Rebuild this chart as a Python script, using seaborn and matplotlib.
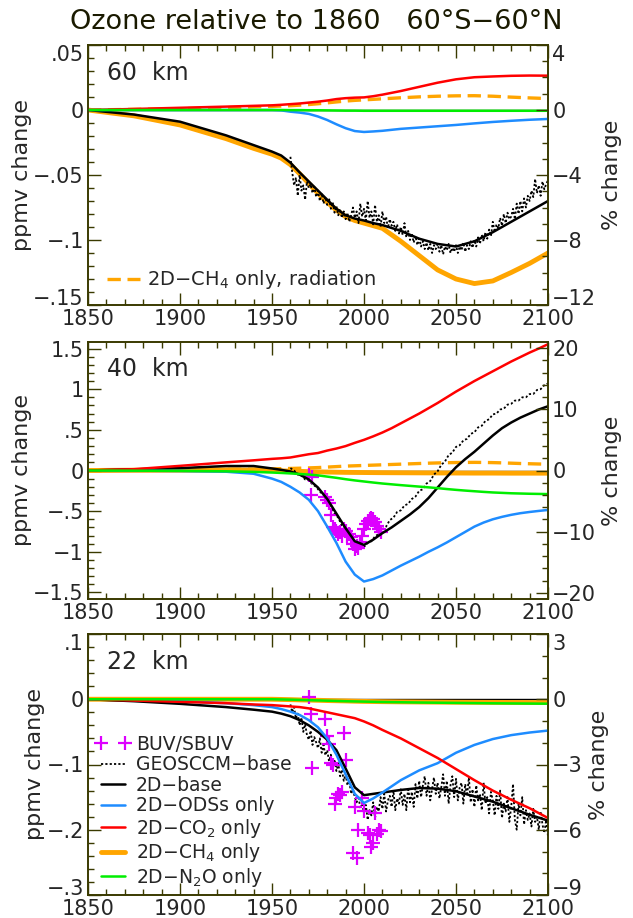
import numpy as np
import pandas as pd
import matplotlib
matplotlib.use("Agg")
import matplotlib.pyplot as plt
import seaborn as sns
from matplotlib.ticker import FixedLocator, MultipleLocator
from matplotlib.lines import Line2D

sns.set_style("ticks")
plt.rcParams["font.family"] = ["DejaVu Sans"]
plt.rcParams["mathtext.fontset"] = "dejavusans"

# ---------------- data ----------------
YR = [1850, 1875, 1900, 1925, 1940, 1950, 1955, 1960, 1965, 1970, 1975, 1980, 1985,
      1990, 1995, 2000, 2005, 2010, 2020, 2030, 2040, 2050, 2060, 2070, 2080, 2090, 2100]
YR40 = [1850, 1875, 1900, 1925, 1940, 1950, 1955, 1960, 1965, 1970, 1975, 1980, 1985,
        1990, 1995, 2000, 2005, 2010, 2015, 2020, 2025, 2030, 2035, 2040, 2045, 2050,
        2055, 2060, 2065, 2070, 2075, 2080, 2085, 2090, 2095, 2100]

# 60 km
base60 = [0, -0.0035, -0.009, -0.0195, -0.027, -0.032, -0.035, -0.0405, -0.048, -0.055, -0.062, -0.069, -0.076,
          -0.081, -0.0835, -0.085, -0.087, -0.0885, -0.093, -0.099, -0.103, -0.105, -0.101, -0.094, -0.086, -0.078, -0.070]
odss60 = [0, 0, 0, 0, 0, 0, -0.0003, -0.0013, -0.002, -0.003, -0.005, -0.0077, -0.011,
          -0.014, -0.0162, -0.0169, -0.0165, -0.016, -0.0145, -0.0135, -0.0125, -0.0115, -0.0103, -0.0092, -0.0083, -0.0075, -0.0069]
co260 = [0, 0.0008, 0.0017, 0.0026, 0.0032, 0.0036, 0.004, 0.0045, 0.005, 0.0057, 0.0064, 0.0073, 0.0084,
         0.0091, 0.0095, 0.0097, 0.0106, 0.0118, 0.0146, 0.0178, 0.021, 0.0236, 0.0252, 0.0258, 0.0263, 0.0265, 0.0264]
ch460 = [0, -0.0045, -0.0115, -0.022, -0.0295, -0.034, -0.037, -0.042, -0.049, -0.0565, -0.064, -0.071, -0.077,
         -0.082, -0.085, -0.087, -0.089, -0.091, -0.101, -0.112, -0.123, -0.130, -0.1335, -0.1315, -0.125, -0.118, -0.110]
ch4rad60 = [0, 0.0005, 0.001, 0.0018, 0.0024, 0.0028, 0.003, 0.0033, 0.0037, 0.0042, 0.0048, 0.0055, 0.0062,
            0.0069, 0.0074, 0.0078, 0.0082, 0.0086, 0.0094, 0.0101, 0.0106, 0.0109, 0.011, 0.0106, 0.0099, 0.0093, 0.0088]
n2o60 = [0, 0, 0, 0, 0, 0, 0, -0.0001, -0.0001, -0.0002, -0.0002, -0.0003, -0.0004,
         -0.0005, -0.0005, -0.0006, -0.0006, -0.0006, -0.0006, -0.0006, -0.0006, -0.0006, -0.0006, -0.0006, -0.0006, -0.0006, -0.0006]

# 40 km (on YR40)
base40 = [0, 0.014, 0.029, 0.055, 0.055, 0.025, 0.008, -0.012, -0.05, -0.11, -0.21, -0.35, -0.53,
          -0.71, -0.87, -0.915, -0.85, -0.77, -0.70, -0.62, -0.54, -0.45, -0.34, -0.21, -0.08, 0.04,
          0.14, 0.23, 0.33, 0.43, 0.52, 0.59, 0.65, 0.70, 0.75, 0.79]
odss40 = [0, -0.002, -0.005, -0.015, -0.04, -0.10, -0.14, -0.20, -0.27, -0.36, -0.50, -0.69, -0.89,
          -1.12, -1.28, -1.365, -1.335, -1.29, -1.23, -1.17, -1.115, -1.06, -1.0, -0.945, -0.885, -0.82,
          -0.755, -0.69, -0.64, -0.60, -0.57, -0.545, -0.525, -0.51, -0.497, -0.485]
co240 = [0, 0.016, 0.057, 0.10, 0.125, 0.143, 0.15, 0.16, 0.18, 0.20, 0.215, 0.245, 0.27,
         0.30, 0.34, 0.377, 0.42, 0.467, 0.52, 0.58, 0.64, 0.70, 0.765, 0.83, 0.90, 0.97,
         1.035, 1.10, 1.16, 1.22, 1.28, 1.34, 1.395, 1.45, 1.50, 1.553]
ch440 = [0, 0.004, 0.006, 0.008, 0.005, 0.0, -0.004, -0.008, -0.011, -0.014, -0.017, -0.019, -0.021,
         -0.023, -0.024, -0.025, -0.026, -0.027, -0.0275, -0.028, -0.0285, -0.029, -0.0295, -0.030, -0.0305, -0.031,
         -0.0315, -0.032, -0.032, -0.032, -0.0325, -0.033, -0.033, -0.033, -0.033, -0.033]
ch4rad40 = [0, 0.004, 0.009, 0.014, 0.017, 0.02, 0.022, 0.025, 0.028, 0.032, 0.036, 0.042, 0.048,
            0.054, 0.058, 0.062, 0.066, 0.07, 0.074, 0.078, 0.082, 0.086, 0.09, 0.093, 0.096, 0.098,
            0.099, 0.10, 0.099, 0.097, 0.094, 0.09, 0.086, 0.083, 0.08, 0.078]
n2o40 = [0, -0.002, -0.005, -0.010, -0.017, -0.025, -0.03, -0.036, -0.043, -0.05, -0.06, -0.075, -0.09,
         -0.107, -0.122, -0.135, -0.148, -0.16, -0.17, -0.18, -0.189, -0.198, -0.207, -0.217, -0.228, -0.238,
         -0.247, -0.255, -0.263, -0.27, -0.275, -0.28, -0.283, -0.286, -0.288, -0.29]

# 22 km
base22 = [0, -0.003, -0.007, -0.012, -0.016, -0.019, -0.022, -0.026, -0.032, -0.040, -0.050, -0.062, -0.078,
          -0.106, -0.135, -0.147, -0.145, -0.143, -0.139, -0.136, -0.137, -0.141, -0.149, -0.157, -0.167, -0.177, -0.186]
odss22 = [0, -0.001, -0.003, -0.006, -0.009, -0.012, -0.015, -0.019, -0.024, -0.032, -0.043, -0.060, -0.085,
          -0.115, -0.145, -0.159, -0.152, -0.143, -0.124, -0.109, -0.098, -0.082, -0.070, -0.061, -0.055, -0.051, -0.048]
co222 = [0, -0.002, -0.004, -0.006, -0.008, -0.009, -0.010, -0.011, -0.012, -0.014, -0.017, -0.020, -0.023,
         -0.026, -0.029, -0.034, -0.040, -0.047, -0.060, -0.075, -0.090, -0.107, -0.124, -0.140, -0.154, -0.167, -0.182]
ch422 = [0, 0, 0, 0, 0, 0, -0.0003, -0.0006, -0.001, -0.0013, -0.0016, -0.002, -0.0023,
         -0.0026, -0.003, -0.0033, -0.0035, -0.0037, -0.004, -0.0042, -0.0044, -0.0046, -0.0047, -0.0048, -0.0049, -0.005, -0.005]
n2o22 = [0, 0, 0, 0, 0, 0, -0.0003, -0.0006, -0.001, -0.0014, -0.0018, -0.0022, -0.0026,
         -0.003, -0.0033, -0.0036, -0.0039, -0.0042, -0.0046, -0.005, -0.0053, -0.0056, -0.0059, -0.0062, -0.0064, -0.0066, -0.0068]

# GEOSCCM-base, annual 1960-2100 (60 km and 22 km), every 2 years (40 km)
GEO_YR1 = list(range(1960, 2101))
GEO_YR2 = list(range(1960, 2101, 2))
geo60 = [-0.036, -0.048, -0.058, -0.052, -0.066, -0.050, -0.062, -0.058, -0.069, -0.055,
         -0.060, -0.057, -0.064, -0.059, -0.067, -0.062, -0.070, -0.064, -0.072, -0.067,
         -0.073, -0.068, -0.076, -0.071, -0.079, -0.074, -0.081, -0.076, -0.083, -0.078,
         -0.084, -0.079, -0.086, -0.081, -0.075, -0.083, -0.078, -0.087, -0.072, -0.082,
         -0.076, -0.085, -0.070, -0.083, -0.078, -0.088, -0.073, -0.086, -0.081, -0.090,
         -0.078, -0.087, -0.082, -0.091, -0.084, -0.089, -0.086, -0.093, -0.088, -0.095,
         -0.090, -0.096, -0.087, -0.098, -0.093, -0.100, -0.095, -0.102, -0.097, -0.104,
         -0.099, -0.105, -0.101, -0.107, -0.102, -0.108, -0.103, -0.110, -0.104, -0.107,
         -0.103, -0.109, -0.104, -0.111, -0.105, -0.108, -0.103, -0.110, -0.106, -0.109,
         -0.104, -0.110, -0.105, -0.108, -0.102, -0.109, -0.104, -0.107, -0.101, -0.106,
         -0.100, -0.105, -0.098, -0.103, -0.096, -0.101, -0.094, -0.099, -0.092, -0.097,
         -0.086, -0.094, -0.088, -0.091, -0.083, -0.089, -0.080, -0.087, -0.079, -0.084,
         -0.082, -0.076, -0.084, -0.072, -0.080, -0.070, -0.078, -0.068, -0.075, -0.066,
         -0.070, -0.062, -0.067, -0.053, -0.064, -0.058, -0.066, -0.055, -0.061, -0.057,
         -0.054]
geo40 = [0.03, 0.00, -0.05, -0.06, -0.11, -0.12, -0.17, -0.20, -0.26, -0.30,
         -0.38, -0.43, -0.53, -0.58, -0.68, -0.73, -0.81, -0.85, -0.92, -0.95,
         -0.94, -0.89, -0.87, -0.81, -0.78, -0.72, -0.69, -0.61, -0.58, -0.51,
         -0.49, -0.43, -0.41, -0.35, -0.32, -0.25, -0.23, -0.16, -0.13, -0.05,
         -0.01, 0.07, 0.11, 0.19, 0.22, 0.29, 0.31, 0.37, 0.39, 0.45,
         0.47, 0.53, 0.55, 0.61, 0.63, 0.69, 0.70, 0.75, 0.76, 0.81,
         0.82, 0.86, 0.86, 0.90, 0.90, 0.94, 0.94, 0.99, 1.00, 1.05, 1.07]
geo22 = [-0.008, -0.020, -0.012, -0.030, -0.022, -0.040, -0.028, -0.050, -0.038, -0.055,
         -0.062, -0.048, -0.070, -0.058, -0.066, -0.075, -0.060, -0.082, -0.070, -0.086,
         -0.078, -0.095, -0.085, -0.100, -0.092, -0.110, -0.098, -0.118, -0.108, -0.125,
         -0.115, -0.132, -0.125, -0.145, -0.138, -0.150, -0.158, -0.148, -0.168, -0.160,
         -0.175, -0.162, -0.185, -0.170, -0.178, -0.158, -0.182, -0.165, -0.172, -0.150,
         -0.168, -0.145, -0.172, -0.155, -0.148, -0.165, -0.140, -0.170, -0.152, -0.160,
         -0.138, -0.162, -0.145, -0.170, -0.135, -0.158, -0.142, -0.165, -0.130, -0.152,
         -0.125, -0.150, -0.132, -0.118, -0.148, -0.128, -0.155, -0.138, -0.120, -0.145,
         -0.128, -0.152, -0.135, -0.115, -0.148, -0.125, -0.160, -0.132, -0.118, -0.150,
         -0.122, -0.155, -0.135, -0.128, -0.160, -0.130, -0.148, -0.120, -0.158, -0.138,
         -0.165, -0.132, -0.155, -0.145, -0.170, -0.128, -0.160, -0.150, -0.175, -0.142,
         -0.155, -0.178, -0.148, -0.168, -0.140, -0.182, -0.160, -0.172, -0.150, -0.188,
         -0.165, -0.130, -0.185, -0.200, -0.160, -0.178, -0.150, -0.192, -0.170, -0.185,
         -0.175, -0.195, -0.168, -0.188, -0.180, -0.200, -0.172, -0.192, -0.205, -0.185,
         -0.210]

# BUV/SBUV observations
buv40_yr = [1970, 1971, 1972, 1979, 1980, 1981, 1982, 1983, 1984, 1985, 1986, 1987, 1988, 1989, 1990,
            1991, 1992, 1993, 1994, 1995, 1996, 1997, 1998, 1999, 2000, 2001, 2002, 2003, 2004, 2005,
            2006, 2007, 2008, 2009]
buv40 = [-0.05, -0.30, -0.08, -0.33, -0.36, -0.40, -0.55, -0.70, -0.72, -0.74, -0.78, -0.76, -0.80, -0.72, -0.75,
         -0.80, -0.78, -0.82, -0.90, -0.97, -0.93, -0.95, -0.88, -0.80, -0.72, -0.66, -0.62, -0.60, -0.58, -0.60,
         -0.63, -0.68, -0.72, -0.76]
buv22_yr = [1970, 1971, 1972, 1979, 1980, 1981, 1982, 1983, 1984, 1985, 1986, 1987, 1988, 1989, 1990,
            1994, 1995, 1996, 1997, 1999, 2000, 2002, 2003, 2004, 2005, 2006, 2007, 2008, 2009]
buv22 = [0.004, -0.022, -0.106, -0.030, -0.057, -0.068, -0.098, -0.100, -0.160, -0.152, -0.145, -0.147, -0.142,
         -0.052, -0.093, -0.235, -0.165, -0.243, -0.200, -0.152, -0.172, -0.205, -0.208, -0.226, -0.220, -0.175,
         -0.206, -0.200, -0.202]

X_TICKS = [1850, 1900, 1950, 2000, 2050, 2100]
X_LABELS = ["1850", "1900", "1950", "2000", "2050", "2100"]

PANELS = [
    dict(name="60  km", yr=YR, base=base60, odss=odss60, co2=co260, ch4=ch460, ch4rad=ch4rad60, n2o=n2o60,
         geo_yr=GEO_YR1, geo=geo60, buv_yr=None, buv=None, ylim=(-0.15, 0.05), factor=80.0, edge=True,
         yticks=[0.05, 0, -0.05, -0.1, -0.15], ylabels=[".05", "0", "\u2212.05", "\u2212.1", "\u2212.15"], yminor=0.01,
         rticks=[4, 0, -4, -8, -12], rlabels=["4", "0", "\u22124", "\u22128", "\u221212"], rminor=1),
    dict(name="40  km", yr=YR40, base=base40, odss=odss40, co2=co240, ch4=ch440, ch4rad=ch4rad40, n2o=n2o40,
         geo_yr=GEO_YR2, geo=geo40, buv_yr=buv40_yr, buv=buv40, ylim=(-1.58, 1.58), factor=13.3, edge=False,
         yticks=[1.5, 1, 0.5, 0, -0.5, -1, -1.5], ylabels=["1.5", "1", ".5", "0", "\u2212.5", "\u22121", "\u22121.5"], yminor=0.1,
         rticks=[20, 10, 0, -10, -20], rlabels=["20", "10", "0", "\u221210", "\u221220"], rminor=2),
    dict(name="22  km", yr=YR, base=base22, odss=odss22, co2=co222, ch4=ch422, ch4rad=None, n2o=n2o22,
         geo_yr=GEO_YR1, geo=geo22, buv_yr=buv22_yr, buv=buv22, ylim=(-0.3, 0.1), factor=30.0, edge=True,
         yticks=[0.1, 0, -0.1, -0.2, -0.3], ylabels=[".1", "0", "\u2212.1", "\u2212.2", "\u2212.3"], yminor=0.02,
         rticks=[3, 0, -3, -6, -9], rlabels=["3", "0", "\u22123", "\u22126", "\u22129"], rminor=1),
]

C_BLUE = "#1e8cff"
C_RED = "#ff0000"
C_ORANGE = "#ffa500"
C_GREEN = "#00ee00"
C_MAG = "#dd00ff"
C_SPINE = "#3a3a00"
GEO_DASH = (0, (1.2, 1.2))
TICK_FS = 15

W, H = 633, 918
fig = plt.figure(figsize=(W / 100, H / 100), dpi=100)
boxes = [(45, 305), (342, 599), (634, 895)]
left, right = 88, 548


def edge_labels(labels):
    labels[0].set_va("top")
    labels[-1].set_va("baseline")


for p, (top, bot) in zip(PANELS, boxes):
    ax = fig.add_axes([left / W, 1 - bot / H, (right - left) / W, (bot - top) / H])
    yr = p["yr"]
    ax.axhline(0, color="black", lw=1.0, zorder=1)
    sns.lineplot(x=yr, y=p["ch4"], ax=ax, color=C_ORANGE, lw=3.5, estimator=None, zorder=2)
    if p["ch4rad"] is not None:
        sns.lineplot(x=yr, y=p["ch4rad"], ax=ax, color=C_ORANGE, lw=2.4, estimator=None, zorder=2)
        ax.lines[-1].set_dashes((4, 2))
    sns.lineplot(x=p["geo_yr"], y=p["geo"], ax=ax, color="black", lw=1.3, estimator=None, zorder=3)
    ax.lines[-1].set_linestyle(GEO_DASH)
    if p["buv"] is not None:
        sns.scatterplot(x=p["buv_yr"], y=p["buv"], ax=ax, marker="+", s=90, color=C_MAG,
                        linewidth=1.6, zorder=4)
    sns.lineplot(x=yr, y=p["base"], ax=ax, color="black", lw=1.8, estimator=None, zorder=5)
    sns.lineplot(x=yr, y=p["odss"], ax=ax, color=C_BLUE, lw=1.8, estimator=None, zorder=6)
    sns.lineplot(x=yr, y=p["co2"], ax=ax, color=C_RED, lw=1.8, estimator=None, zorder=6)
    sns.lineplot(x=yr, y=p["n2o"], ax=ax, color=C_GREEN, lw=1.8, estimator=None, zorder=6)

    ax.set_xlim(1850, 2100)
    ax.set_ylim(*p["ylim"])
    ax.xaxis.set_major_locator(FixedLocator(X_TICKS))
    ax.set_xticklabels(X_LABELS)
    ax.xaxis.set_minor_locator(MultipleLocator(10))
    ax.yaxis.set_major_locator(FixedLocator(p["yticks"]))
    ax.set_yticklabels(p["ylabels"])
    ax.yaxis.set_minor_locator(MultipleLocator(p["yminor"]))
    ax.tick_params(axis="both", which="both", direction="in", top=True, right=False,
                   labelsize=TICK_FS, color=C_SPINE)
    ax.tick_params(axis="both", which="major", length=9, width=1)
    ax.tick_params(axis="both", which="minor", length=4.5, width=1)
    ax.tick_params(axis="x", pad=3)
    ax.tick_params(axis="y", pad=3)
    for s in ax.spines.values():
        s.set_color(C_SPINE)
        s.set_linewidth(1.2)
    ax.set_ylabel("ppmv change", fontsize=16, labelpad=1)
    ax.set_xlabel("")
    ax.text(0.042, 0.94, p["name"], transform=ax.transAxes, fontsize=17, va="top", ha="left")

    ax2 = ax.twinx()
    ax2.set_ylim(p["ylim"][0] * p["factor"], p["ylim"][1] * p["factor"])
    ax2.yaxis.set_major_locator(FixedLocator(p["rticks"]))
    ax2.set_yticklabels(p["rlabels"])
    ax2.yaxis.set_minor_locator(MultipleLocator(p["rminor"]))
    ax2.tick_params(axis="y", which="both", direction="in", labelsize=TICK_FS, color=C_SPINE, pad=3)
    ax2.tick_params(axis="y", which="major", length=9, width=1)
    ax2.tick_params(axis="y", which="minor", length=4.5, width=1)
    for s in ax2.spines.values():
        s.set_color(C_SPINE)
        s.set_linewidth(1.2)
    ax2.set_ylabel("% change", fontsize=16, rotation=90, labelpad=4)

    if p["edge"]:
        edge_labels(ax.get_yticklabels())
        edge_labels(ax2.get_yticklabels())

    if p["name"].startswith("60"):
        h = [Line2D([], [], color=C_ORANGE, lw=2.4, dashes=(4, 2))]
        ax.legend(h, ["2D\u2212CH$_4$ only, radiation"], loc="lower left", frameon=False,
                  fontsize=14, handlelength=1.7, handletextpad=0.35, borderaxespad=0.3,
                  bbox_to_anchor=(0.012, 0.0))
    if p["name"].startswith("22"):
        h = [Line2D([], [], color=C_MAG, marker="+", ls="none", ms=10, mew=1.6),
             Line2D([], [], color="black", lw=1.3, ls=GEO_DASH),
             Line2D([], [], color="black", lw=1.8),
             Line2D([], [], color=C_BLUE, lw=1.8),
             Line2D([], [], color=C_RED, lw=1.8),
             Line2D([], [], color=C_ORANGE, lw=3.5),
             Line2D([], [], color=C_GREEN, lw=1.8)]
        labs = ["BUV/SBUV", "GEOSCCM\u2212base", "2D\u2212base", "2D\u2212ODSs only",
                "2D\u2212CO$_2$ only", "2D\u2212CH$_4$ only", "2D\u2212N$_2$O only"]
        ax.legend(h, labs, loc="lower left", frameon=False, fontsize=13.5, numpoints=2,
                  handlelength=1.85, handletextpad=0.3, labelspacing=0.08, borderaxespad=0.0,
                  bbox_to_anchor=(0.0, -0.005))

fig.text(0.5, 1 - 22 / H, "Ozone relative to 1860   60\u00b0S\u221260\u00b0N", ha="center", va="center",
         fontsize=19.5, color="#1a1a00")

fig.savefig("out.png", dpi=100)
